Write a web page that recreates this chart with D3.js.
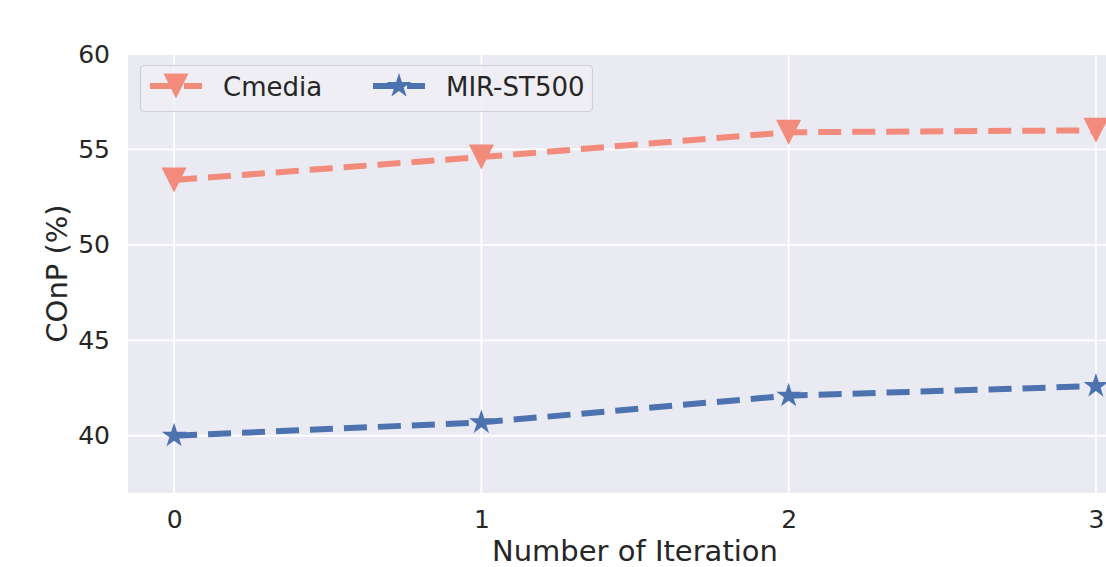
<!DOCTYPE html>
<html>
<head>
<meta charset="utf-8">
<script src="https://cdn.jsdelivr.net/npm/d3@7"></script>
<style>
html,body{margin:0;padding:0;background:#fff;overflow:hidden;}
svg{display:block;}
text{font-family:"DejaVu Sans",sans-serif;fill:#262626;}
</style>
</head>
<body>
<svg id="chart" width="1106" height="567"></svg>
<script>
const iterations = [0, 1, 2, 3];
const cmedia = [53.4, 54.6, 55.9, 56.0];
const mirst500 = [40.0, 40.7, 42.1, 42.6];
const yTicks = [40, 45, 50, 55, 60];
const seriesNames = ["Cmedia", "MIR-ST500"];
const seriesColors = ["#f28b7b", "#4c72b0"];

const svg = d3.select("#chart");
const pL = 128, pR = 1142, pT = 54, pB = 493;

const x = d3.scaleLinear().domain([-0.15, 3.15]).range([pL, pR]);
const y = d3.scaleLinear().domain([37, 60]).range([pB, pT]);

// background
svg.append("rect").attr("x", pL).attr("y", pT)
  .attr("width", pR - pL).attr("height", pB - pT).attr("fill", "#eaeaf2");

// grid
const grid = svg.append("g");
grid.selectAll("line.gy").data(yTicks).enter().append("line")
  .attr("x1", pL).attr("x2", pR)
  .attr("y1", d => y(d)).attr("y2", d => y(d))
  .attr("stroke", "#fff").attr("stroke-width", 1.8);
grid.selectAll("line.gx").data(iterations).enter().append("line")
  .attr("y1", pT).attr("y2", pB)
  .attr("x1", d => x(d)).attr("x2", d => x(d))
  .attr("stroke", "#fff").attr("stroke-width", 1.8);

// axes
const yAxis = svg.append("g").attr("transform", `translate(${pL},0)`)
  .call(d3.axisLeft(y).tickValues(yTicks).tickSize(0).tickPadding(18).tickFormat(d3.format("d")));
yAxis.select(".domain").remove();
yAxis.selectAll("text").attr("font-size", 25).attr("font-family", "DejaVu Sans").attr("fill", "#262626");

const xAxis = svg.append("g").attr("transform", `translate(0,${pB})`)
  .call(d3.axisBottom(x).tickValues(iterations).tickSize(0).tickPadding(17).tickFormat(d3.format("d")));
xAxis.select(".domain").remove();
xAxis.selectAll("text").attr("font-size", 25).attr("font-family", "DejaVu Sans").attr("fill", "#262626");

// axis labels
svg.append("text").attr("x", (pL + pR) / 2).attr("y", 561)
  .attr("text-anchor", "middle").attr("font-size", 29).text("Number of Iteration");
svg.append("text").attr("transform", `translate(67,${(pT + pB) / 2}) rotate(-90)`)
  .attr("text-anchor", "middle").attr("font-size", 29).text("COnP (%)");

// marker paths
function triDown(s) {
  const h = s / 2;
  return `M0,${h}L${-h},${-h}L${h},${-h}Z`;
}
function star(R) {
  const r = R * 0.381966;
  let p = "";
  for (let i = 0; i < 10; i++) {
    const rad = i % 2 === 0 ? R : r;
    const a = -Math.PI / 2 + i * Math.PI / 5;
    p += (i === 0 ? "M" : "L") + (rad * Math.cos(a)).toFixed(2) + "," + (rad * Math.sin(a)).toFixed(2);
  }
  return p + "Z";
}
const markers = [triDown(25), star(13)];
const allSeries = [cmedia, mirst500];

const line = d3.line().x((d, i) => x(iterations[i])).y(d => y(d));

allSeries.forEach((vals, si) => {
  svg.append("path").datum(vals).attr("d", line)
    .attr("fill", "none").attr("stroke", seriesColors[si])
    .attr("stroke-width", 6).attr("stroke-dasharray", "23,11");
  svg.selectAll(null).data(vals).enter().append("path")
    .attr("d", markers[si])
    .attr("transform", (d, i) => `translate(${x(iterations[i])},${y(d)})`)
    .attr("fill", seriesColors[si]);
});

// legend
const lg = svg.append("g");
lg.append("rect").attr("x", 140.5).attr("y", 65.5).attr("width", 452).attr("height", 46)
  .attr("rx", 4).attr("fill", "#eeeef5").attr("fill-opacity", 0.85)
  .attr("stroke", "#cfcfd6").attr("stroke-width", 1.2);
const legX = [150, 373];
seriesNames.forEach((name, si) => {
  const x0 = legX[si], yy = 86;
  lg.append("line").attr("x1", x0).attr("x2", x0 + 52).attr("y1", yy).attr("y2", yy)
    .attr("stroke", seriesColors[si]).attr("stroke-width", 6).attr("stroke-dasharray", "23,11");
  lg.append("path").attr("d", markers[si]).attr("transform", `translate(${x0 + 26},${yy})`)
    .attr("fill", seriesColors[si]);
  lg.append("text").attr("x", x0 + 73).attr("y", yy + 9.5).attr("font-size", 26).text(name);
});
</script>
</body>
</html>
